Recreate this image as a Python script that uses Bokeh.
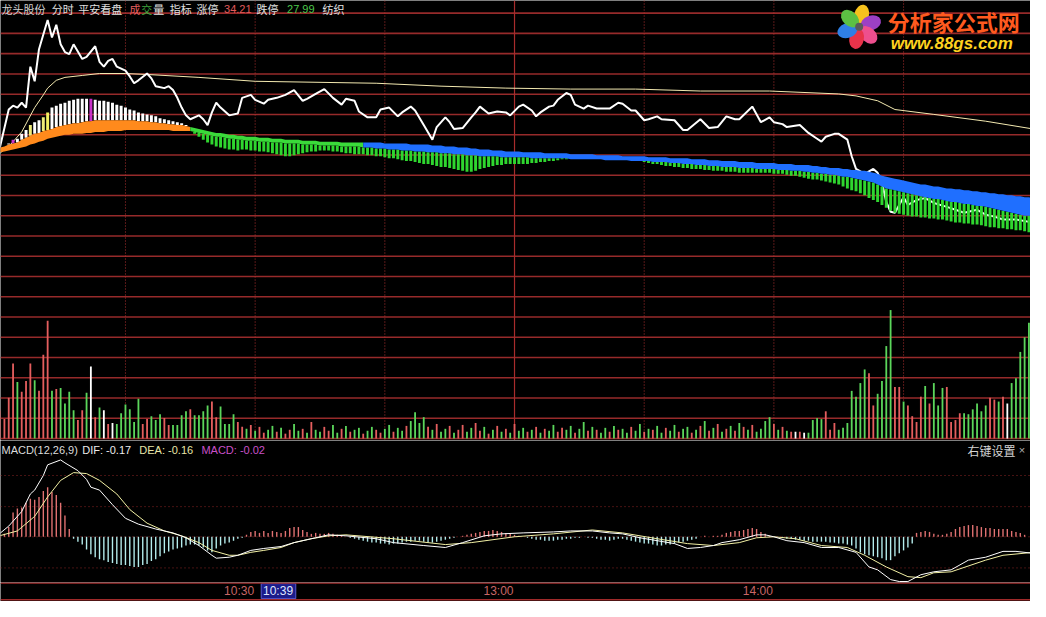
import math
from bokeh.plotting import figure
from bokeh.layouts import column
from bokeh.models import Range1d, Span, Label
from bokeh.embed import file_html
from bokeh.resources import INLINE

# ------------------------------------------------------------------ data
minutes = list(range(241))                      # trading minutes from 09:30
time_tick_minutes = [60, 120, 180]
time_tick_labels = ["10:30", "13:00", "14:00"]
cursor_minute = 69
cursor_label = "10:39"
stock_name = "龙头股份"
limit_up = "34.21"
limit_down = "27.99"
sector = "纺织"
dif_last, dea_last, macd_last = "-0.17", "-0.16", "-0.02"

price_min = [0,1,3,4,5,6,7,8,9,10,11,12,13,14,15,16,17,18,20,21,23,24,25,26,27,28,30,31,32,33,
             35,36,37,39,40,41,42,43,44,45,47,48,49,50,51,52,54,56,57,59,60,62,63,65,67,69,71,72,74,76,
             78,80,81,83,84,86,88,89,91,93,94,96,97,99,101,102,104,105,106,108,110,111,112,114,116,118,
             119,121,122,124,125,126,128,129,130,132,133,134,136,137,139,142,144,145,147,148,150,151,153,
             154,157,159,160,163,165,167,169,171,172,175,177,179,180,182,183,186,187,188,190,191,192,194,
             195,197,198,199,201,203,204,205,206,207,208,209,210,211,213,215,217,220,222,224,227,229,231,
             233,236,240]
price = [30.94,31.00,31.38,31.42,31.40,31.45,31.40,31.82,31.67,32.00,32.15,32.30,32.12,32.25,32.05,
         31.97,31.95,32.05,31.90,31.92,32.03,31.87,31.82,31.88,31.90,31.82,31.78,31.72,31.65,31.68,
         31.75,31.70,31.62,31.60,31.62,31.58,31.50,31.40,31.32,31.28,31.32,31.28,31.22,31.35,31.45,
         31.40,31.32,31.34,31.50,31.53,31.48,31.44,31.48,31.50,31.53,31.58,31.47,31.49,31.54,31.59,
         31.50,31.43,31.49,31.47,31.36,31.30,31.30,31.38,31.40,31.31,31.35,31.41,31.37,31.22,31.07,
         31.20,31.30,31.25,31.18,31.19,31.30,31.35,31.41,31.34,31.36,31.35,31.32,31.41,31.43,31.37,
         31.31,31.35,31.41,31.42,31.48,31.55,31.53,31.43,31.39,31.42,31.39,31.39,31.45,31.44,31.37,
         31.37,31.27,31.28,31.31,31.28,31.27,31.17,31.17,31.28,31.19,31.20,31.31,31.28,31.28,31.41,
         31.25,31.30,31.25,31.23,31.20,31.22,31.18,31.14,31.08,31.05,31.10,31.13,31.13,31.07,30.90,
         30.77,30.72,30.77,30.73,30.63,30.43,30.33,30.32,30.40,30.48,30.40,30.45,30.47,30.42,30.38,
         30.35,30.32,30.35,30.30,30.28,30.25,30.25,30.22]

avg_min = [0,3,6,9,11,12,14,16,20,24,30,35,47,60,88,103,118,133,148,163,179,195,199,204,208,217,229,240]
avg_price = [30.90,31.00,31.15,31.40,31.53,31.60,31.68,31.71,31.73,31.75,31.75,31.74,31.71,31.67,
             31.65,31.62,31.60,31.59,31.59,31.57,31.57,31.54,31.52,31.47,31.38,31.33,31.26,31.18]

# indicator band (fen) and bar tips (fen), one value per minute
band_hi_fen = [
 3097,3099,3100,3102,3103,3104,3107,3109,3111,3113,3114,3116,3117,3118,3120,3121,3122,3123,3124,3124,
 3125,3126,3126,3127,3127,3127,3127,3127,3127,3127,3127,3127,3127,3126,3126,3126,3125,3125,3124,3124,
 3123,3123,3122,3122,3121,
 3120,3119,3118,3117,3116,3115,3114,3114,3113,3112,3112,3111,3111,3110,3110,3110,3109,3109,3109,3108,
 3108,3108,3107,3107,3107,3107,3106,3106,3106,3106,3105,3105,3105,3105,3105,3104,3104,3104,3104,3104,
 3104,3104,3104,3104,3104,3103,3103,3103,3103,3103,3103,3102,3102,3102,3102,3102,3101,3101,3101,3100,
 3100,3100,3099,3099,3099,3098,3098,3097,3097,3097,3096,3096,3096,3095,3095,3095,3095,3094,3094,3094,
 3094,3094,3093,3093,3093,3093,3093,3093,3092,3092,3092,3092,3092,3092,3091,3091,3091,3091,3091,3091,
 3090,3090,3090,3090,3090,3090,3089,3089,3089,3089,3089,3088,3088,3088,3088,3088,3087,3087,3087,3087,
 3086,3086,3086,3085,3085,3085,3085,3084,3084,3084,3084,3083,3083,3083,3083,3083,3082,3082,3082,3082,
 3081,3081,3081,3081,3080,3080,3079,3079,3078,3078,3078,3077,3077,3076,3076,3075,3075,3074,3073,3072,
 3070,3069,3068,3067,3066,3065,3064,3063,3062,3061,3061,3060,3059,3059,3058,3057,3057,3056,3056,3055,
 3055,3054,3054,3053,3053,3052,3052,3051,3051,3050,3050,3049,3049,3048,3048,3047]
band_lo_fen = [
 3093,3094,3095,3096,3097,3098,3099,3100,3102,3103,3105,3106,3108,3109,3110,3111,3112,3112,3113,3113,
 3113,3114,3114,3115,3115,3115,3116,3116,3116,3116,3117,3117,3117,3117,3117,3117,3117,3117,3117,3117,
 3117,3116,3116,3116,3116,
 3116,3115,3114,3113,3112,3111,3110,3110,3109,3108,3108,3107,3107,3106,3106,3106,3105,3105,3105,3104,
 3104,3104,3103,3103,3103,3103,3102,3102,3102,3102,3101,3101,3101,3101,3101,3100,3100,3100,3100,3100,
 3099,3099,3099,3098,3098,3098,3097,3097,3097,3096,3096,3096,3095,3095,3095,3094,3094,3094,3093,3093,
 3093,3092,3092,3092,3091,3091,3091,3090,3090,3090,3090,3090,3089,3089,3089,3089,3089,3089,3089,3088,
 3088,3088,3088,3088,3088,3088,3088,3088,3087,3087,3087,3087,3087,3087,3087,3087,3086,3086,3086,3086,
 3086,3086,3085,3085,3085,3085,3085,3084,3084,3084,3084,3083,3083,3083,3082,3082,3082,3081,3081,3081,
 3080,3080,3080,3079,3079,3079,3079,3078,3078,3078,3078,3077,3077,3077,3077,3077,3076,3076,3076,3075,
 3075,3075,3074,3074,3073,3073,3072,3072,3071,3071,3070,3069,3069,3068,3067,3066,3065,3064,3063,3061,
 3059,3057,3056,3055,3054,3053,3052,3051,3050,3049,3048,3047,3046,3046,3045,3044,3043,3043,3042,3041,
 3041,3040,3039,3039,3038,3037,3036,3035,3034,3033,3032,3031,3030,3029,3029,3028]
bar_tip_fen = [
 3097,3099,3100,3103,3107,3108,3113,3117,3122,3125,3127,3130,3135,3140,3142,3144,3145,3147,3148,3149,
 3149,3149,3149,3148,3147,3147,3146,3145,3143,3142,3140,3138,3137,3135,3134,3133,3132,3131,3129,3128,
 3127,3126,3125,3124,3122,
 3116,3113,3110,3107,3104,3102,3100,3099,3098,3097,3097,3096,3097,3097,3096,3096,3095,3095,3094,3093,
 3092,3091,3090,3090,3091,3092,3093,3094,3095,3095,3096,3096,3096,3095,3095,3094,3093,3093,3092,3092,
 3092,3091,3091,3090,3090,3089,3088,3088,3087,3086,3085,3085,3084,3083,3082,3082,3081,3080,3079,3079,
 3078,3077,3076,3075,3074,3074,3075,3077,3078,3079,3080,3081,3081,3082,3082,3082,3082,3082,3082,3083,
 3083,3084,3084,3085,3085,3086,3087,3087,3087,3087,3087,3087,3087,3087,3087,3087,3086,3086,3086,3086,
 3086,3086,3085,3085,3085,3084,3083,3082,3082,3081,3080,3080,3079,3079,3078,3078,3077,3077,3077,3076,
 3076,3075,3075,3075,3074,3074,3074,3073,3073,3073,3073,3073,3073,3073,3073,3072,3072,3072,3071,3070,
 3070,3069,3068,3067,3066,3066,3065,3064,3063,3062,3061,3059,3057,3055,3054,3052,3050,3047,3045,3043,
 3040,3037,3034,3032,3031,3030,3029,3028,3028,3027,3027,3026,3026,3025,3025,3024,3023,3022,3022,3021,
 3021,3020,3020,3019,3018,3017,3017,3016,3016,3015,3015,3014,3014,3013,3012,3012]
rise_end_minute = 44       # indicator bars point up until here, down afterwards
blue_start_minute = 85

volume = [3000,
 2830,2000,4200,7700,5800,4800,5900,7700,6000,4900,8600,12100,4900,5100,5200,3600,4800,2900,1900,2900,
 4700,7400,2200,3200,2900,1500,1600,1500,2600,3500,3000,1700,4100,1500,2000,2300,1900,2500,2100,1400,
 1400,1400,2400,2800,3000,2400,2400,2800,3400,3800,2200,3300,1500,1500,2500,1700,1200,
 1000,1400,800,1200,600,900,1300,700,1100,500,900,1500,800,1000,600,1700,900,700,1200,800,
 1400,600,1000,1300,700,900,1100,500,800,1200,900,600,1000,1400,700,1100,800,1300,1800,2700,
 1600,2200,1200,900,1500,700,1000,1300,600,900,1400,700,1100,1600,800,1200,500,900,1300,700,
 1000,600,1500,800,1100,700,900,1200,600,1000,800,1400,700,1100,900,1300,600,1000,1700,800,
 1200,900,600,1100,700,1300,900,1000,600,1200,800,1500,700,1000,900,1300,600,1100,800,1400,
 700,1000,1200,600,900,1300,1800,800,1100,1500,700,1000,1300,800,1600,1200,900,1400,700,1000,
 1800,2200,1500,900,1200,800,
 700,700,700,600,600,1900,2100,2000,2800,900,1600,900,1100,1600,4900,4300,5700,7100,6700,3400,
 4600,5900,9500,13200,5300,5300,3800,3400,2300,1700,4300,5400,3600,5700,3400,5200,5300,1700,1900,2600,
 2600,2500,3000,3600,2800,3400,4200,4000,3800,4300,3600,5700,6200,8900,10400,11900,12500]
vol_dir = ("r" +
 "rrrrgrrrgr" "rrgrggggrr" "gwrgwrwggg" "gggrrgggrr" "ggggrggggr" "rggggrr" +
 "grgrrggrgr" "rggrgrggrr" "ggrgrggrgg" "rrggrggrgg" "ggrgrggrgr" "rggrrgrgrg"
 "rgrggrgrgr" "ggrrggrggr" "grggrgrggr" "ggrgrggrgg" "rggrgrgrgr" "grgrgrgrgg" "ggrgrg" +
 "rwrwggggrr" "rgggggggrr" "ggggrrgrrr" "rgrgggrrrr" "ggggggrrgr" "wgggggg")

macd_hist_x100 = [
 0,1,3,10,25,29,30,35,39,38,41,47,51,46,43,35,22,8,
 -2,-5,-8,-13,-18,-21,-23,-24,-26,-27,-28,-29,-29,-30,-31,-31,-29,-28,-25,-23,-20,-17,
 -15,-13,-12,-11,-9,-8,-8,-9,-11,-14,-16,-12,-9,-7,-6,-4,-2,-1,
 2,5,6,4,6,4,6,5,4,6,9,10,10,7,5,3,4,3,3,4,3,2,1,
 0,-1,-2,-3,-4,-5,-6,-6,-7,-7,-8,-7,-7,-6,-5,-5,-4,-4,-5,-6,-6,-5,-4,-3,-2,-1,0,1,2,3,
 4,5,6,6,7,6,5,4,3,2,1,0,-1,-2,-3,-3,-4,-4,-4,-3,-3,-2,-2,-1,-1,0,-1,
 -1,-2,-3,-3,-4,-3,-2,-2,-3,
 -4,-5,-6,-7,-7,-8,-9,-9,-8,-8,-7,-6,-5,-4,-3,-2,
 0,1,0,1,1,
 2,4,5,6,6,7,8,9,8,5,3,1,0,0,
 -1,-2,-2,-3,-3,-4,-4,-5,-5,-5,-5,-6,-6,-7,-7,-8,
 -9,-12,-16,-18,-19,-20,-21,-22,-24,-24,-20,-17,-14,-11,-7,
 4,5,6,5,3,2,2,3,5,8,10,11,12,12,11,10,9,9,8,8,8,8,6,5,4,2,0,-2]

dif_min = [0,3,6,8,9,11,12,15,16,19,21,22,24,27,30,33,37,41,44,47,50,51,54,56,59,62,66,69,74,77,
           81,88,92,99,104,108,113,117,122,129,133,138,142,145,149,153,157,160,163,166,168,172,176,
           178,180,183,187,191,195,199,202,204,207,209,211,214,217,221,225,229,233,236,240]
dif = [0.00,0.11,0.26,0.44,0.48,0.63,0.74,0.79,0.76,0.68,0.59,0.51,0.48,0.33,0.19,0.13,0.08,0.04,
       -0.01,-0.09,-0.19,-0.22,-0.21,-0.19,-0.14,-0.12,-0.10,-0.06,-0.01,0.02,0.01,-0.02,-0.06,-0.09,
       -0.11,-0.06,0.01,0.03,0.04,0.05,0.06,0.06,0.04,0.03,-0.01,-0.04,-0.07,-0.12,-0.11,-0.09,-0.06,
       -0.03,0.02,0.02,0.00,-0.04,-0.06,-0.11,-0.11,-0.16,-0.31,-0.34,-0.44,-0.46,-0.46,-0.39,-0.36,
       -0.34,-0.24,-0.21,-0.15,-0.15,-0.17]
dea_min = [0,5,9,12,15,18,21,24,28,31,35,39,43,47,50,54,56,59,62,66,69,73,77,81,92,104,110,120,129,
           138,145,153,160,166,172,176,180,185,191,197,201,206,211,214,217,221,229,233,240]
dea = [0.00,0.06,0.21,0.41,0.58,0.66,0.65,0.58,0.44,0.28,0.14,0.06,0.01,-0.06,-0.14,-0.19,-0.19,
       -0.16,-0.14,-0.11,-0.06,-0.02,0.01,0.02,-0.02,-0.08,-0.06,0.00,0.03,0.07,0.04,-0.02,-0.07,
       -0.09,-0.06,-0.01,0.00,-0.02,-0.09,-0.11,-0.19,-0.31,-0.41,-0.42,-0.37,-0.36,-0.24,-0.19,-0.16]

for arr in (band_hi_fen, band_lo_fen, bar_tip_fen, volume, vol_dir, macd_hist_x100):
    assert len(arr) == 241, len(arr)
assert len(price_min) == len(price) and len(avg_min) == len(avg_price)
assert len(dif_min) == len(dif) and len(dea_min) == len(dea)

# ------------------------------------------------------------------ layout
REF_W, REF_H = 1046, 617
W = 1030
H_A, H_B, H_C = 440, 142, 19
SX = W / REF_W
SY = (H_A + H_B + H_C) / REF_H
PX_PER_MIN = 4.39
X0_REF = -4.8
x_range = Range1d(-X0_REF / PX_PER_MIN, (REF_W - X0_REF) / PX_PER_MIN)

P_TOP, P_PER_PX = 32.50, 0.01
price_range = Range1d(P_TOP - 452 * P_PER_PX, P_TOP)
vol_range = Range1d(-200, 45000)
macd_range = Range1d(-0.47, 0.99)

GRID_RED = "#962a2a"
CJK = "Noto Sans CJK SC"
LAT = "Liberation Sans"


def make_fig(h, yr):
    p = figure(width=W, height=h, x_range=x_range, y_range=yr, output_backend="svg",
               toolbar_location=None, min_border=0, x_axis_location=None, y_axis_location=None,
               background_fill_color="black", border_fill_color="black", outline_line_color=None)
    p.grid.visible = False
    return p


def label(p, h, xr, yr, text, color, size="12px", font=CJK, style="normal", align="left"):
    p.add_layout(Label(x=xr * SX, y=h - yr * SY, x_units="screen", y_units="screen", text=text,
                       text_color=color, text_font=font, text_font_size=size,
                       text_font_style=style, text_align=align, text_baseline="middle"))


# ---------------- price + volume pane
A = make_fig(H_A, price_range)
A.extra_y_ranges = {"vol": vol_range}
for i in range(22):
    yref = 13 + 20.81 * i
    A.add_layout(Span(location=P_TOP - yref * P_PER_PX, dimension="width",
                      line_color=GRID_RED, line_width=1.6, level="underlay"))
for m in (30, 60, 90, 150, 180, 210):
    A.add_layout(Span(location=m, dimension="height", line_color="#b03030", line_width=1,
                      line_dash="1 2", level="underlay"))
A.add_layout(Span(location=120, dimension="height", line_color="#a82c2c", line_width=1.2,
                  level="underlay"))

vcol = {"r": "#e45e5e", "g": "#5bd65b", "w": "#ffffff"}
A.vbar(x=minutes, width=0.42, top=volume, bottom=0, y_range_name="vol",
       fill_color=[vcol[c] for c in vol_dir], line_color=None)

A.line(avg_min, avg_price, line_color="#f3e9b0", line_width=1)
A.line(price_min, price, line_color="#ffffff", line_width=2)

special = {4: "#c832c8", 8: "#f0ec78", 11: "#f0ec78", 12: "#f4f060", 22: "#c832c8"}
ix, itop, ibot, icol = [], [], [], []
for m in minutes:
    base = (band_hi_fen[m] if m <= rise_end_minute else band_lo_fen[m]) / 100
    tip = bar_tip_fen[m] / 100
    if abs(tip - base) < 1e-9:
        continue
    ix.append(m); itop.append(max(base, tip)); ibot.append(min(base, tip))
    icol.append(special.get(m, "#ffffff") if m <= rise_end_minute else "#2fd62f")
A.vbar(x=ix, width=0.68, top=itop, bottom=ibot, fill_color=icol, line_color=None)

hi = [v / 100 for v in band_hi_fen]
lo = [v / 100 for v in band_lo_fen]
A.varea(x=minutes[:rise_end_minute + 2], y1=hi[:rise_end_minute + 2], y2=lo[:rise_end_minute + 2],
        fill_color="#ff8a1c")
A.varea(x=minutes[rise_end_minute + 1:blue_start_minute + 1],
        y1=hi[rise_end_minute + 1:blue_start_minute + 1],
        y2=lo[rise_end_minute + 1:blue_start_minute + 1], fill_color="#3ada3a")
A.varea(x=minutes[blue_start_minute:], y1=hi[blue_start_minute:], y2=lo[blue_start_minute:],
        fill_color="#1f6fff")

# header line (kept fully inside the pane)
HY = 9
HS = "11px"
label(A, H_A, 1, HY, stock_name, "#d0d0d0", size=HS)
label(A, H_A, 52, HY, "分时", "#e0e0e0", size=HS)
label(A, H_A, 79, HY, "平安看盘", "#e0e0e0", size=HS)
label(A, H_A, 131, HY, "成", "#e86060", size=HS)
label(A, H_A, 143, HY, "交", "#3fa83f", size=HS)
label(A, H_A, 155, HY, "量", "#e0e0e0", size=HS)
label(A, H_A, 172, HY, "指标", "#e0e0e0", size=HS)
label(A, H_A, 199, HY, "涨停", "#e0e0e0", size=HS)
label(A, H_A, 227, HY, limit_up, "#e05a5a", size=HS, font=LAT)
label(A, H_A, 260, HY, "跌停", "#e0e0e0", size=HS)
label(A, H_A, 291, HY, limit_down, "#4cc84c", size=HS, font=LAT)
label(A, H_A, 327, HY, sector, "#e0e0e0", size=HS)

# watermark logo
def ref_to_data(xr, yr):
    return (xr - X0_REF) / PX_PER_MIN, P_TOP - yr * P_PER_PX

cx, cy = 872, 27
petal_cols = ["#f6c21c", "#9c40c4", "#ee4f8e", "#e8334a", "#2f7fe6", "#5cc043"]
petal_angles = [78, 18, -42, -102, -162, 138]
pxs, pys, pang = [], [], []
for a in petal_angles:
    r = math.radians(a)
    dx, dy = 12.5 * math.cos(r), -12.5 * math.sin(r)
    xd, yd = ref_to_data(cx + dx, cy + dy)
    pxs.append(xd); pys.append(yd); pang.append(r)
A.ellipse(x=pxs, y=pys, width=21 * SX, height=15 * SY, angle=pang, width_units="screen",
          height_units="screen", fill_color=petal_cols, line_color=None)
ccx, ccy = ref_to_data(cx, cy)
A.scatter(x=[ccx], y=[ccy], size=8, fill_color="#5a5a5a", line_color=None)
label(A, H_A, 901, 21, "分析家公式网", "#ff5a1f", size="22px", style="bold")
label(A, H_A, 904, 44, "www.88gs.com", "#ffd21f", size="17px", font=LAT, style="bold italic")

# ---------------- MACD pane
B = make_fig(H_B, macd_range)
for v in (0.63, 0.31, 0.0, -0.32):
    B.add_layout(Span(location=v, dimension="width", line_color="#8c2424", line_width=1,
                      line_dash="1 3", level="underlay"))
B.vbar(x=minutes, width=0.32, top=[max(v, 0) / 100 for v in macd_hist_x100],
       bottom=[min(v, 0) / 100 for v in macd_hist_x100],
       fill_color=["#e27272" if v > 0 else "#b4ecec" for v in macd_hist_x100], line_color=None)
B.line(dea_min, dea, line_color="#f2f0a4", line_width=1)
B.line(dif_min, dif, line_color="#ffffff", line_width=1)

my = 462 - 452
MS = "11px"
label(B, H_B, 1, my, "MACD(12,26,9)", "#dcdcdc", size=MS, font=LAT)
label(B, H_B, 83, my, "DIF: " + dif_last, "#ececec", size=MS, font=LAT)
label(B, H_B, 141, my, "DEA: " + dea_last, "#e8e6a8", size=MS, font=LAT)
label(B, H_B, 204, my, "MACD: " + macd_last, "#c850c8", size=MS, font=LAT)
label(B, H_B, 982, my, "右键设置", "#d4d4d4", size="12px")
label(B, H_B, 1034, my, "×", "#b0b0b0", size=MS, font=LAT)

# ---------------- time axis strip
C = make_fig(H_C, Range1d(0, 1))
C.add_layout(Span(location=0.975, dimension="width", line_color="#a02a2a", line_width=1.6))
C.add_layout(Span(location=0.09, dimension="width", line_color="#a02a2a", line_width=1.6))
ty = H_C - (606.5 - 598) * SY
for m, t in zip(time_tick_minutes, time_tick_labels):
    C.add_layout(Label(x=m, y=ty, x_units="data", y_units="screen", text=t, text_align="right",
                       text_baseline="middle", x_offset=-1, text_color="#c86666",
                       text_font=LAT, text_font_size="12px"))
C.quad(left=cursor_minute - 7.6, right=cursor_minute + 0.4, bottom=0.15, top=0.94,
       fill_color="#1c1c8a", line_color="#5a5ad2", line_width=1)
C.add_layout(Label(x=cursor_minute, y=ty, x_units="data", y_units="screen", text=cursor_label,
                   text_align="right", text_baseline="middle", x_offset=-1, text_color="#dfe6ff",
                   text_font=LAT, text_font_size="12px"))

layout = column(A, B, C, spacing=0)
open("out.html", "w").write(file_html(layout, INLINE))
